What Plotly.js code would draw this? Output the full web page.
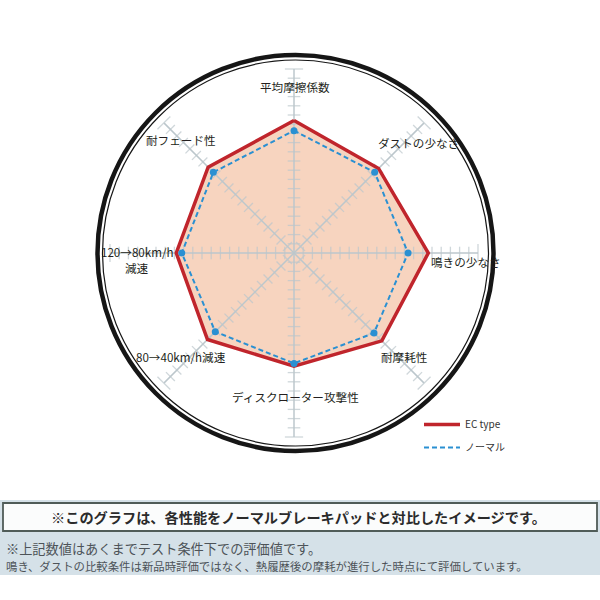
<!DOCTYPE html>
<html>
<head>
<meta charset="utf-8">
<script src="https://cdn.plot.ly/plotly-3.0.1.min.js"></script>
<style>
  html, body { margin: 0; padding: 0; background: #fff; }
  #plot { width: 600px; height: 600px; }
</style>
</head>
<body>
<div id="plot"></div>
<script>
// axes of the radar, clockwise from the top
let categories = ['平均摩擦係数', 'ダストの少なさ', '鳴きの少なさ', '耐摩耗性',
                  'ディスクローター攻撃性', '80→40km/h減速', '120→80km/h<br>減速', '耐フェード性'];
let ecType = [14.4, 13.0, 14.6, 13.5, 12.3, 13.3, 12.8, 13.2];
let normal = [13.3, 12.4, 12.4, 12.3, 12.0, 12.1, 12.2, 12.4];
let rMax = 20;

let seriesNames = ['EC type', 'ノーマル'];
let noteBox = '※このグラフは、各性能をノーマルブレーキパッドと対比したイメージです。';
let noteLines = ['※上記数値はあくまでテスト条件下での評価値です。',
                 '鳴き、ダストの比較条件は新品時評価ではなく、熱履歴後の摩耗が進行した時点にて評価しています。'];

// where each axis label sits (first line), in page pixels
let labelPos = [[295, 87], [418, 143], [466, 262], [404, 357],
                [295, 397], [181, 357], [137, 252], [181, 140]];

const JP = '"Noto Sans CJK JP", "Noto Sans", sans-serif';
const px = v => v / 600;
const py = v => 1 - v / 600;

function closed(a) { return a.concat([a[0]]); }

// spokes and cross ticks
let spokeTheta = [], spokeR = [];
let tickTheta = [], tickR = [], tickAngle = [], tickSize = [];
categories.forEach((c, i) => {
  spokeTheta.push(c, c, null);
  spokeR.push(0, rMax, null);
  for (let k = 1; k <= rMax; k++) {
    tickTheta.push(c);
    tickR.push(k);
    tickAngle.push(i * 45);
    tickSize.push(k === rMax ? 13 : 9);
  }
});

let fill = {
  type: 'scatterpolar', mode: 'none',
  theta: closed(categories), r: closed(ecType),
  fill: 'toself', fillcolor: '#f7d4bf',
  showlegend: false, hoverinfo: 'skip'
};
let spokes = {
  type: 'scatterpolar', mode: 'lines',
  theta: spokeTheta, r: spokeR,
  line: {color: '#bcc7cc', width: 1.5},
  showlegend: false, hoverinfo: 'skip'
};
let ticks = {
  type: 'scatterpolar', mode: 'markers',
  theta: tickTheta, r: tickR,
  marker: {symbol: 'line-ew', size: tickSize, angle: tickAngle,
           line: {color: '#bcc7cc', width: 1.3}},
  showlegend: false, hoverinfo: 'skip'
};
let ecLine = {
  type: 'scatterpolar', mode: 'lines', name: seriesNames[0],
  theta: closed(categories), r: closed(ecType),
  line: {color: '#c0252c', width: 3.5},
  legendgroup: 'a'
};
let normalLine = {
  type: 'scatterpolar', mode: 'lines', name: seriesNames[1],
  theta: closed(categories), r: closed(normal),
  line: {color: '#2a90d2', width: 2, dash: '5px,3px'},
  legendgroup: 'b'
};
let normalDots = {
  type: 'scatterpolar', mode: 'markers',
  theta: categories, r: normal,
  marker: {color: '#2a90d2', size: 7},
  showlegend: false, hoverinfo: 'skip'
};

let data = [fill, spokes, ticks, ecLine, normalLine, normalDots];

// axis labels; a label with a line break is split into one text per line
let annotations = [];
categories.forEach((c, i) => {
  c.split('<br>').forEach((line, j) => {
    annotations.push({
      x: px(labelPos[i][0]), y: py(labelPos[i][1] + j * 16), xref: 'paper', yref: 'paper',
      text: line, showarrow: false, xanchor: 'center', yanchor: 'middle',
      font: {family: JP, size: 11.6, color: '#231f20'}
    });
  });
});
annotations.push({
  x: px(298), y: py(517), xref: 'paper', yref: 'paper', text: '<b>' + noteBox + '</b>',
  showarrow: false, xanchor: 'center', yanchor: 'middle',
  font: {family: JP, size: 14.2, color: '#2b2b2b'}
});
annotations.push({
  x: px(4), y: py(548), xref: 'paper', yref: 'paper', text: noteLines[0],
  showarrow: false, xanchor: 'left', yanchor: 'middle',
  font: {family: JP, size: 13.2, color: '#4d5358'}
});
annotations.push({
  x: px(4), y: py(566), xref: 'paper', yref: 'paper', text: noteLines[1],
  showarrow: false, xanchor: 'left', yanchor: 'middle',
  font: {family: JP, size: 11.4, color: '#4d5358'}
});

let cx = 295.5, cy = 253;
let shapes = [
  {type: 'circle', xref: 'paper', yref: 'paper', layer: 'below',
   x0: px(cx - 198), x1: px(cx + 198), y0: py(cy + 198), y1: py(cy - 198),
   line: {color: '#161616', width: 4.5}},
  {type: 'circle', xref: 'paper', yref: 'paper', layer: 'below',
   x0: px(cx - 193), x1: px(cx + 193), y0: py(cy + 193), y1: py(cy - 193),
   line: {color: '#161616', width: 1.2}},
  {type: 'rect', xref: 'paper', yref: 'paper', layer: 'below',
   x0: 0, x1: 1, y0: py(575), y1: py(500),
   fillcolor: '#d5e1e8', line: {width: 0}},
  {type: 'rect', xref: 'paper', yref: 'paper', layer: 'below',
   x0: px(3), x1: px(597), y0: py(531), y1: py(503),
   fillcolor: '#fbfcfc', line: {color: '#505c58', width: 1.8}}
];

let layout = {
  width: 600,
  height: 600,
  margin: {l: 0, r: 0, t: 0, b: 0},
  paper_bgcolor: '#ffffff',
  font: {family: JP},
  polar: {
    domain: {x: [px(294 - 184), px(294 + 184)], y: [py(253 + 184), py(253 - 184)]},
    bgcolor: 'rgba(0,0,0,0)',
    radialaxis: {range: [0, rMax], visible: false},
    angularaxis: {type: 'category', direction: 'clockwise', rotation: 90, visible: false}
  },
  showlegend: true,
  legend: {
    x: px(419), y: py(410), xanchor: 'left', yanchor: 'top', itemwidth: 36,
    bgcolor: 'rgba(0,0,0,0)', traceorder: 'grouped', tracegroupgap: 4,
    font: {family: JP, size: 10, color: '#333'}
  },
  shapes: shapes,
  annotations: annotations
};

Plotly.newPlot('plot', data, layout, {displayModeBar: false, staticPlot: true});
</script>
</body>
</html>
